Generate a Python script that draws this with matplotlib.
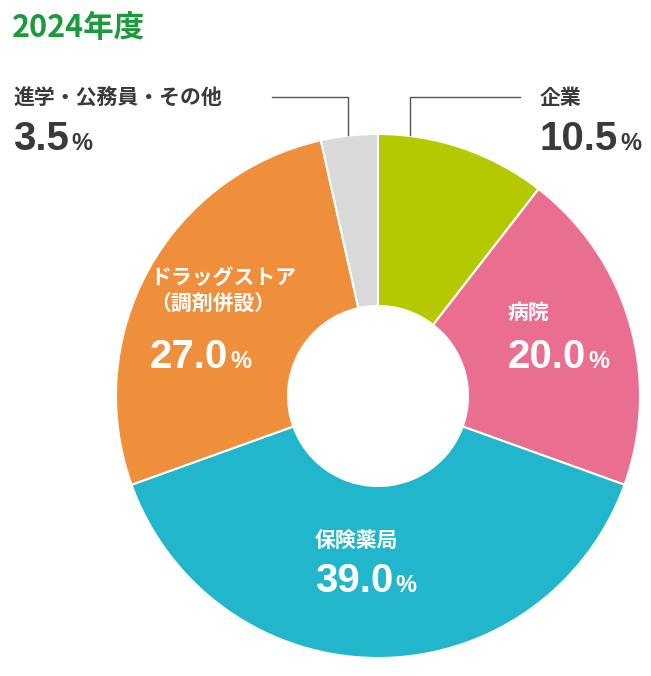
import matplotlib
matplotlib.use('Agg')
import matplotlib.pyplot as plt

categories = ['企業', '病院', '保険薬局', 'ドラッグストア\n（調剤併設）', '進学・公務員・その他']
values = [10.5, 20.0, 39.0, 27.0, 3.5]
colors = ['#b5c900', '#ea6e8f', '#22b6cc', '#f08f3b', '#d9d9d9']
title = '2024年度'

W, H = 651, 676
fig = plt.figure(figsize=(W / 100, H / 100), dpi=100)
ax = fig.add_axes([0, 0, 1, 1])
ax.set_xlim(0, W)
ax.set_ylim(0, H)
ax.set_aspect('equal')
ax.axis('off')

cx, cy, R, r = 378, H - 396, 262, 90
ax.pie(values, colors=colors, startangle=90, counterclock=False,
       center=(cx, cy), radius=R,
       wedgeprops=dict(width=R - r, edgecolor='white', linewidth=1.5))
ax.set_xlim(0, W)
ax.set_ylim(0, H)

JP = 'Noto Sans CJK JP'
NUM = 'Liberation Sans'
renderer = fig.canvas.get_renderer()


def label(x, y_name, y_num, name, val, col, ha_lines=None):
    ax.text(x, H - y_name, name, fontfamily=JP, fontweight='bold', fontsize=15,
            color=col, va='center', ha='left', linespacing=1.3)
    t = ax.text(x, H - y_num, f'{val:.1f}', fontfamily=NUM, fontweight='bold',
                fontsize=29, color=col, va='baseline', ha='left')
    bb = t.get_window_extent(renderer)
    ax.text(bb.x1 + 2, H - y_num, '%', fontfamily=NUM, fontweight='bold',
            fontsize=17, color=col, va='baseline', ha='left')


dark = '#3a3a3a'
label(540, 97, 150, categories[0], values[0], dark)
label(508, 312, 368, categories[1], values[1], 'white')
label(315, 540, 592, categories[2], values[2], 'white')
label(150, 291, 368, categories[3], values[3], 'white')
label(13, 97, 150, categories[4], values[4], dark)

ax.plot([410, 410, 520], [H - 135, H - 97, H - 97], color='#555555', lw=1)
ax.plot([348, 348, 272], [H - 135, H - 97, H - 97], color='#555555', lw=1)

ax.text(12, H - 28, title, fontfamily=JP, fontweight='bold', fontsize=22,
        color='#1a9a3a', va='center', ha='left')

fig.savefig('out.png', dpi=100)
